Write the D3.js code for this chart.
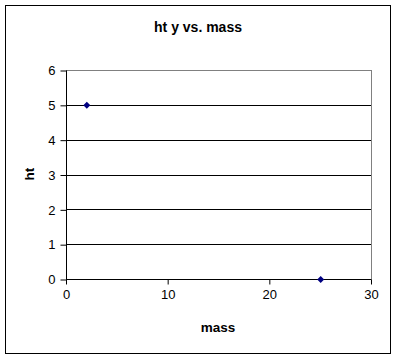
<!DOCTYPE html>
<html>
<head>
<meta charset="utf-8">
<script src="https://cdn.jsdelivr.net/npm/d3@7"></script>
<style>
body { margin: 0; background: #fff; }
text { font-family: Arial, "Liberation Sans", sans-serif; }
</style>
</head>
<body>
<svg id="chart"></svg>
<script>
// data
var mass = [2, 25];
var ht = [5, 0];
var xTicks = [0, 10, 20, 30];
var yTicks = [0, 1, 2, 3, 4, 5, 6];

var W = 397, H = 359;
var plotL = 66, plotR = 371, plotT = 70, plotB = 279;

var svg = d3.select("#chart")
    .attr("width", W)
    .attr("height", H);

// outer chart frame
svg.append("rect")
    .attr("x", 5.5).attr("y", 5.5)
    .attr("width", 385).attr("height", 348)
    .attr("fill", "#fff")
    .attr("stroke", "#000")
    .attr("stroke-width", 1);

var x = d3.scaleLinear().domain([0, 30]).range([plotL, plotR]);
var y = d3.scaleLinear().domain([0, 6]).range([plotB, plotT]);

// plot area border (grey top/right)
svg.append("rect")
    .attr("x", plotL + 0.5).attr("y", plotT + 0.5)
    .attr("width", plotR - plotL).attr("height", plotB - plotT)
    .attr("fill", "none")
    .attr("stroke", "#808080");

// gridlines
svg.append("g")
    .selectAll("line")
    .data(yTicks.filter(function(d){ return d > 0 && d < 6; }))
    .enter()
    .append("line")
    .attr("x1", plotL).attr("x2", plotR)
    .attr("y1", function(d){ return Math.round(y(d)) + 0.5; })
    .attr("y2", function(d){ return Math.round(y(d)) + 0.5; })
    .attr("stroke", "#000");

var yAxis = svg.append("g")
    .attr("transform", "translate(" + (plotL + 0.5) + ",0.5)")
    .call(d3.axisLeft(y).tickValues(yTicks).tickFormat(d3.format("d")).tickSize(6).tickPadding(5));

var xAxis = svg.append("g")
    .attr("transform", "translate(0," + (plotB + 0.5) + ")")
    .call(d3.axisBottom(x).tickValues(xTicks).tickFormat(d3.format("d")).tickSize(5).tickPadding(5));

[yAxis, xAxis].forEach(function(a){
    a.select(".domain").attr("stroke", "#000");
    a.selectAll(".tick line").attr("stroke", "#000");
    a.selectAll("text")
        .attr("fill", "#000")
        .style("font-size", "13px")
        .style("font-family", "Arial, 'Liberation Sans', sans-serif");
});
yAxis.select(".domain").attr("d", "M0," + plotT + "V" + plotB);
xAxis.select(".domain").attr("d", "M" + plotL + ",0H" + plotR);

// points
var pts = mass.map(function(d, i){ return [d, ht[i]]; });
svg.append("g")
    .selectAll("path")
    .data(pts)
    .enter()
    .append("path")
    .attr("d", "M0,-3.5L3.5,0L0,3.5L-3.5,0Z")
    .attr("transform", function(d){
        return "translate(" + (x(d[0]) + 0.5) + "," + (y(d[1]) + 0.5) + ")";
    })
    .attr("fill", "#000080");

// title and axis labels
svg.append("text")
    .attr("x", 198).attr("y", 32)
    .attr("text-anchor", "middle")
    .style("font-size", "14px").style("font-weight", "bold")
    .text("ht y vs. mass");

svg.append("text")
    .attr("x", 218).attr("y", 332)
    .attr("text-anchor", "middle")
    .style("font-size", "13.5px").style("font-weight", "bold")
    .text("mass");

svg.append("text")
    .attr("transform", "translate(34,174) rotate(-90)")
    .attr("text-anchor", "middle")
    .style("font-size", "13.5px").style("font-weight", "bold")
    .text("ht");
</script>
</body>
</html>
